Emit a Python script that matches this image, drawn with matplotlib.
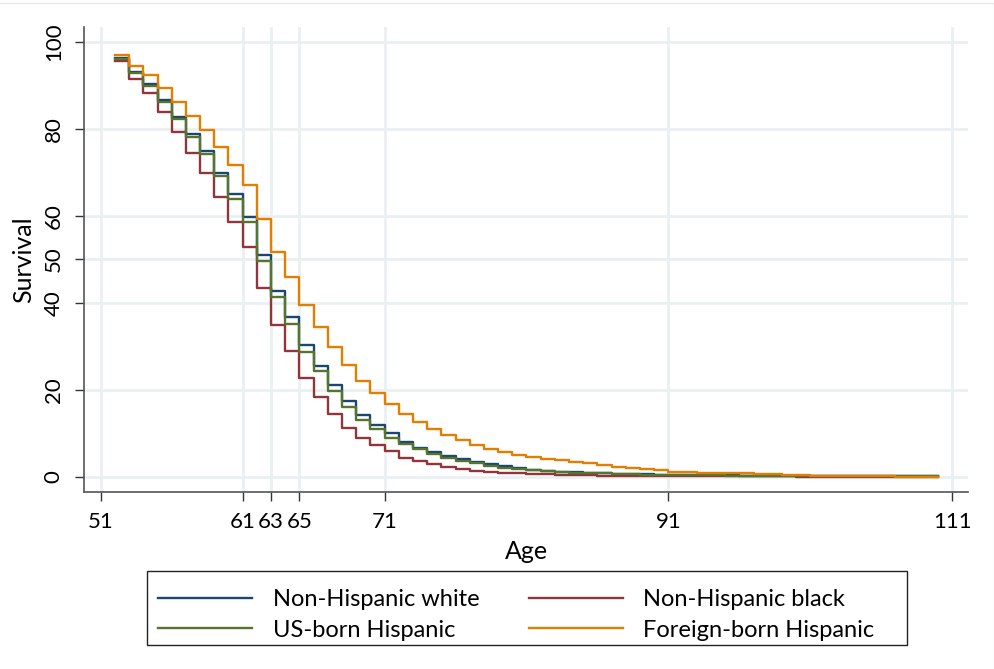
import numpy as np
import matplotlib.pyplot as plt
from matplotlib.patches import Rectangle

plt.rcParams['font.family'] = ['Lato', 'DejaVu Sans']

# survival (%) by age, step function starting at age 52
ages = list(range(52, 110))

white = [96.2, 93.0, 90.3, 86.7, 82.8, 78.7, 74.8, 69.9, 64.9, 59.7,
         51.0, 42.7, 36.8, 30.3, 25.5, 21.1, 17.3, 14.2, 11.9, 10.0,
         8.0, 6.7, 5.6, 4.8, 4.0, 3.3, 2.85, 2.4, 1.9, 1.6,
         1.4, 1.15, 1.0, 0.9, 0.8, 0.7, 0.6, 0.55, 0.5, 0.45,
         0.4, 0.35, 0.3, 0.28, 0.25, 0.22, 0.2, 0.18, 0.15, 0.13,
         0.12, 0.1, 0.1, 0.08, 0.08, 0.06, 0.05, 0.05]
black = [95.5, 91.4, 88.2, 83.9, 79.2, 74.5, 69.8, 64.4, 58.6, 52.7,
         43.3, 34.9, 28.9, 22.6, 18.3, 14.4, 11.3, 8.9, 7.2, 5.8,
         4.4, 3.7, 2.85, 2.3, 1.7, 1.4, 1.15, 0.95, 0.8, 0.65,
         0.55, 0.45, 0.4, 0.3, 0.25, 0.22, 0.2, 0.18, 0.15, 0.13,
         0.12, 0.1, 0.1, 0.08, 0.07, 0.06, 0.05, 0.05, 0.04, 0.04,
         0.03, 0.03, 0.03, 0.02, 0.02, 0.02, 0.02, 0.02]
usborn = [96.0, 92.8, 89.9, 86.2, 82.3, 78.0, 74.1, 69.1, 63.9, 58.6,
          49.5, 41.4, 35.2, 28.7, 24.2, 19.7, 16.1, 13.1, 11.0, 9.0,
          7.5, 6.3, 5.2, 4.4, 3.6, 3.1, 2.5, 2.1, 1.8, 1.5,
          1.3, 1.1, 0.95, 0.85, 0.75, 0.65, 0.58, 0.5, 0.45, 0.4,
          0.35, 0.3, 0.28, 0.25, 0.22, 0.2, 0.18, 0.15, 0.13, 0.12,
          0.1, 0.1, 0.08, 0.08, 0.06, 0.05, 0.05, 0.05]
foreign = [97.0, 94.5, 92.4, 89.4, 86.2, 83.0, 79.7, 75.9, 71.6, 67.0,
           59.2, 51.7, 45.9, 39.4, 34.5, 29.9, 25.7, 22.0, 19.3, 16.6,
           14.3, 12.6, 11.0, 9.6, 8.4, 7.3, 6.4, 5.7, 5.0, 4.5,
           4.1, 3.8, 3.4, 3.1, 2.7, 2.3, 1.9, 1.7, 1.5, 1.15,
           1.0, 0.85, 0.85, 0.78, 0.78, 0.62, 0.62, 0.39, 0.39, 0.16,
           0.16, 0.16, 0.16, 0.16, 0.16, 0.02, 0.02, 0.02]

labels = ["Non-Hispanic white", "Non-Hispanic black",
          "US-born Hispanic", "Foreign-born Hispanic"]
colors = ["#1a476f", "#90353b", "#55752f", "#e37e00"]

xticks = [51, 61, 63, 65, 71, 91, 111]
yticks = [0, 20, 40, 50, 60, 80, 100]

fig = plt.figure(figsize=(9.95, 6.69), dpi=100)
ax = fig.add_axes([84 / 995, 1 - 491.7 / 669, 884 / 995, 464.7 / 669])

for v in xticks:
    ax.axvline(v, color="#eaf0f2", lw=2, zorder=0)
for v in yticks:
    ax.axhline(v, color="#eaf0f2", lw=2, zorder=0)

series = [white, black, usborn, foreign]
lines = []
for vals, lab, c in zip(series, labels, colors):
    x = ages + [ages[-1] + 1]
    y = vals + [vals[-1]]
    ln, = ax.step(x, y, where="post", color=c, lw=1.7, label=lab)
    lines.append(ln)

ax.set_xlim(49.82, 112.11)
ax.set_ylim(-3.45, 103.38)
ax.set_xticks(xticks)
ax.set_yticks(yticks)
ax.set_yticklabels([str(v) for v in yticks], rotation=90, va="center")
ax.tick_params(axis="both", length=6.5, width=1, color="#333333",
               labelsize=16, pad=8)
for s in ["top", "right"]:
    ax.spines[s].set_visible(False)
for s in ["left", "bottom"]:
    ax.spines[s].set_color("#555555")
    ax.spines[s].set_linewidth(1.2)

ax.set_xlabel("Age", fontsize=18, labelpad=6)
ax.set_ylabel("Survival", fontsize=18, labelpad=6)

# legend box
fig.patches.append(Rectangle((147 / 995, 1 - 645 / 669), 760 / 995, 74 / 669,
                             transform=fig.transFigure, fill=False,
                             edgecolor="#222222", lw=1))
# row-wise order: white, black / US-born, foreign-born
order = [lines[0], lines[2], lines[1], lines[3]]
fig.legend(order, [l.get_label() for l in order], ncol=2,
           loc="upper left", bbox_to_anchor=(158 / 995, 1 - 589 / 669),
           frameon=False, fontsize=17, handlelength=4.0, handletextpad=0.85,
           columnspacing=2.1, borderpad=0, borderaxespad=0, labelspacing=0.41)

# faint outer border
fig.patches.append(Rectangle((-0.01, -0.01), 1 - 1 / 995 + 0.01, 1 - 3 / 669 + 0.01,
                             transform=fig.transFigure, fill=False,
                             edgecolor="#e8e8e8", lw=1))

fig.savefig("out.png", dpi=100)
